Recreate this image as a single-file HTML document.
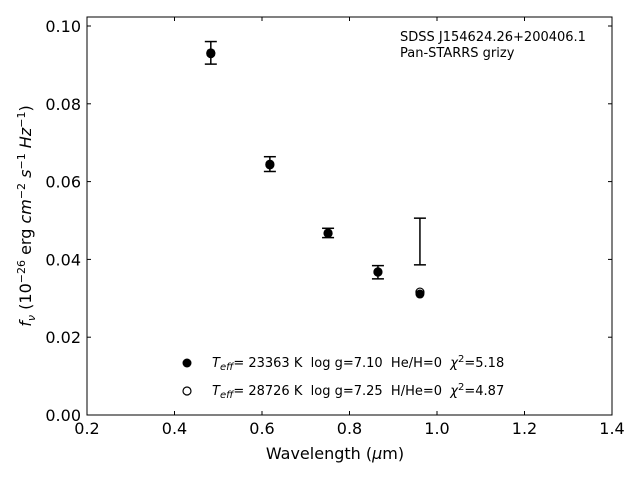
<!DOCTYPE html>
<html><head><meta charset="utf-8"><style>
body{margin:0;background:#fff;}
svg text{font-family:"DejaVu Sans","Liberation Sans",sans-serif;white-space:pre;}
</style></head><body>
<svg width="640" height="480" xmlns="http://www.w3.org/2000/svg" xml:space="preserve">
<rect x="87" y="17" width="525" height="398" fill="none" stroke="#000" stroke-width="1"/>
<g id="xt"></g>
<g id="yt"></g>
<g id="marks"></g>
<text x="335" y="459" font-size="16" text-anchor="middle">Wavelength (<tspan font-style="italic">μ</tspan>m)</text>
<text transform="translate(31,216) rotate(-90)" font-size="16" text-anchor="middle"><tspan font-style="italic">f</tspan><tspan font-style="italic" font-size="11" dy="4">ν</tspan><tspan dy="-4"> (10</tspan><tspan font-size="11" dy="-6">−26</tspan><tspan dy="6"> erg </tspan><tspan font-style="italic">cm</tspan><tspan font-size="11" dy="-6">−2</tspan><tspan dy="6"> </tspan><tspan font-style="italic">s</tspan><tspan font-size="11" dy="-6">−1</tspan><tspan dy="6"> </tspan><tspan font-style="italic">Hz</tspan><tspan font-size="11" dy="-6">−1</tspan><tspan dy="6">)</tspan></text>
<text x="400" y="41" font-size="13">SDSS J154624.26+200406.1</text>
<text x="400" y="57" font-size="13">Pan-STARRS grizy</text>
<g>
<circle cx="187" cy="363" r="4.5" fill="#000"/>
<text x="212" y="367" font-size="13"><tspan font-style="italic">T</tspan><tspan font-style="italic" font-size="10" dy="3">eff</tspan><tspan dy="-3">= 23363 K  log g=7.10  He/H=0  </tspan><tspan font-style="italic">χ</tspan><tspan font-size="10" dy="-5">2</tspan><tspan dy="5">=5.18</tspan></text>
<circle cx="187" cy="391" r="4" fill="#fff" stroke="#000" stroke-width="1.2"/>
<text x="212" y="395" font-size="13"><tspan font-style="italic">T</tspan><tspan font-style="italic" font-size="10" dy="3">eff</tspan><tspan dy="-3">= 28726 K  log g=7.25  H/He=0  </tspan><tspan font-style="italic">χ</tspan><tspan font-size="10" dy="-5">2</tspan><tspan dy="5">=4.87</tspan></text>
</g>
</svg>
<script>
const wavelengths=[0.483,0.618,0.751,0.865,0.961];
const obsFlux=[0.0931,0.0645,0.0468,0.0367,0.0446];
const obsErr=[0.0029,0.0019,0.0012,0.0017,0.0060];
const modelH=[0.0931,0.0645,0.0468,0.0367,0.0311];
const modelHe=[0.0929,0.0643,0.0467,0.0368,0.0316];
const xTicks=[0.2,0.4,0.6,0.8,1.0,1.2,1.4];
const yTicks=[0,0.02,0.04,0.06,0.08,0.10];
const NS="http://www.w3.org/2000/svg";
const X=v=>87+(v-0.2)/1.2*525;
const Y=v=>415-v*3890;
function mk(t,a,p){const e=document.createElementNS(NS,t);for(const k in a)e.setAttribute(k,a[k]);p.appendChild(e);return e;}
const xt=document.getElementById('xt'),yt=document.getElementById('yt'),m=document.getElementById('marks');
xTicks.forEach(v=>{const x=X(v);
mk('line',{x1:x,x2:x,y1:415,y2:411,stroke:'#000'},xt);
mk('line',{x1:x,x2:x,y1:17,y2:21,stroke:'#000'},xt);
const t=mk('text',{x:x,y:434,'font-size':16,'text-anchor':'middle'},xt);t.textContent=v.toFixed(1);

});
yTicks.forEach(v=>{const y=Y(v);
mk('line',{x1:87,x2:91,y1:y,y2:y,stroke:'#000'},yt);
mk('line',{x1:612,x2:608,y1:y,y2:y,stroke:'#000'},yt);
const t=mk('text',{x:81,y:y+6,'font-size':16,'text-anchor':'end'},yt);t.textContent=v.toFixed(2);

});
wavelengths.forEach((w,i)=>{const x=X(w);
const c1=mk('circle',{cx:x,cy:Y(modelHe[i]),r:4,fill:'#fff',stroke:'#000','stroke-width':1.2},m);


const c2=mk('circle',{cx:x,cy:Y(modelH[i]),r:4.5,fill:'#000'},m);


const g=mk('g',{stroke:'#000','stroke-width':1.5},m);


const t=Y(obsFlux[i]+obsErr[i]),b=Y(obsFlux[i]-obsErr[i]);
mk('line',{x1:x,x2:x,y1:t,y2:b},g);
mk('line',{x1:x-6,x2:x+6,y1:t,y2:t},g);
mk('line',{x1:x-6,x2:x+6,y1:b,y2:b},g);});
</script>
</body></html>
